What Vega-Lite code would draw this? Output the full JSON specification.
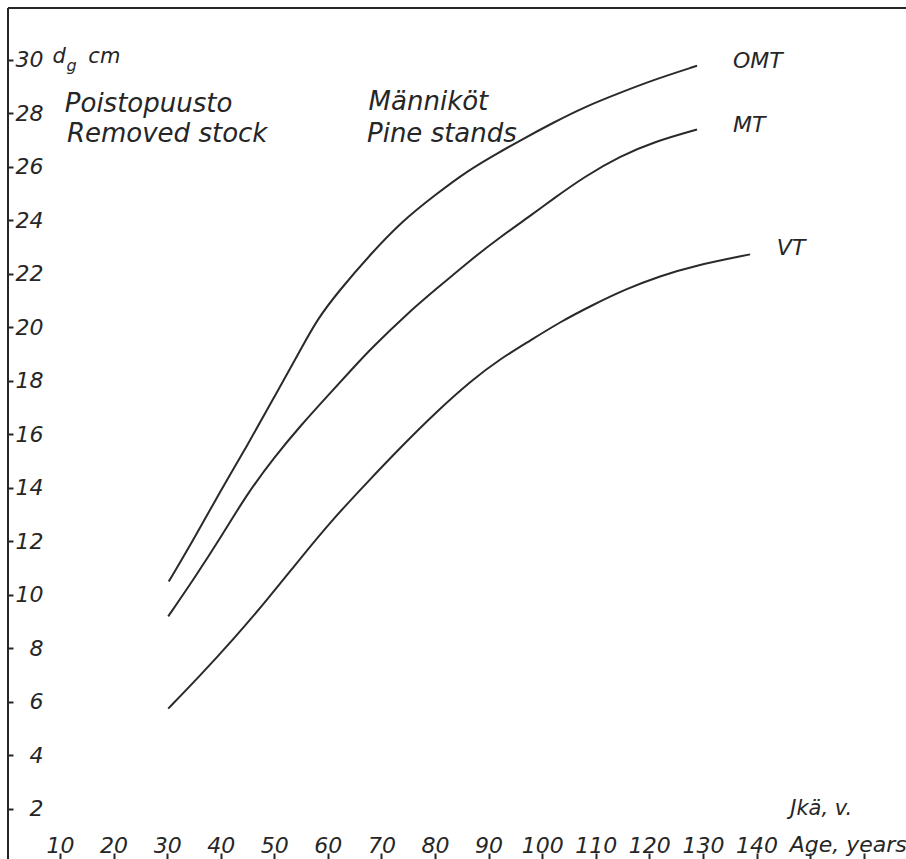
{
  "$schema": "https://vega.github.io/schema/vega-lite/v6.json",
  "width": 898,
  "height": 851,
  "autosize": {"type": "none"},
  "padding": {"left": 8, "top": 8, "right": 0, "bottom": 0},
  "background": "white",
  "view": {"stroke": null},
  "config": {
    "font": "DejaVu Sans",
    "text": {"font": "DejaVu Sans", "fontStyle": "italic", "color": "#262626", "align": "left", "baseline": "alphabetic"}
  },
  "datasets": {
    "curves": [
      {"site": "OMT", "age": 30.3, "d": 10.5},
      {"site": "OMT", "age": 35, "d": 12.1},
      {"site": "OMT", "age": 40, "d": 13.9},
      {"site": "OMT", "age": 45, "d": 15.6},
      {"site": "OMT", "age": 50, "d": 17.4},
      {"site": "OMT", "age": 55, "d": 19.2},
      {"site": "OMT", "age": 58, "d": 20.3},
      {"site": "OMT", "age": 62, "d": 21.35},
      {"site": "OMT", "age": 68, "d": 22.75},
      {"site": "OMT", "age": 74, "d": 24.0},
      {"site": "OMT", "age": 80, "d": 24.95},
      {"site": "OMT", "age": 86, "d": 25.85},
      {"site": "OMT", "age": 92, "d": 26.55},
      {"site": "OMT", "age": 96, "d": 27.0},
      {"site": "OMT", "age": 102, "d": 27.65},
      {"site": "OMT", "age": 108, "d": 28.25},
      {"site": "OMT", "age": 114.5, "d": 28.77},
      {"site": "OMT", "age": 121, "d": 29.27},
      {"site": "OMT", "age": 128.9, "d": 29.78},
      {"site": "MT", "age": 30.2, "d": 9.2},
      {"site": "MT", "age": 35, "d": 10.6},
      {"site": "MT", "age": 40, "d": 12.15},
      {"site": "MT", "age": 45, "d": 13.8},
      {"site": "MT", "age": 50, "d": 15.15},
      {"site": "MT", "age": 55, "d": 16.35},
      {"site": "MT", "age": 60, "d": 17.45},
      {"site": "MT", "age": 65, "d": 18.55},
      {"site": "MT", "age": 68, "d": 19.2},
      {"site": "MT", "age": 75, "d": 20.55},
      {"site": "MT", "age": 80, "d": 21.4},
      {"site": "MT", "age": 86.5, "d": 22.5},
      {"site": "MT", "age": 92, "d": 23.35},
      {"site": "MT", "age": 98, "d": 24.2},
      {"site": "MT", "age": 102, "d": 24.8},
      {"site": "MT", "age": 108, "d": 25.65},
      {"site": "MT", "age": 114.5, "d": 26.4},
      {"site": "MT", "age": 121, "d": 26.95},
      {"site": "MT", "age": 128.9, "d": 27.4},
      {"site": "VT", "age": 30.2, "d": 5.75},
      {"site": "VT", "age": 36, "d": 6.95},
      {"site": "VT", "age": 42.4, "d": 8.35},
      {"site": "VT", "age": 48.6, "d": 9.8},
      {"site": "VT", "age": 54.8, "d": 11.35},
      {"site": "VT", "age": 61, "d": 12.85},
      {"site": "VT", "age": 67.3, "d": 14.2},
      {"site": "VT", "age": 73.5, "d": 15.5},
      {"site": "VT", "age": 80, "d": 16.8},
      {"site": "VT", "age": 87, "d": 18.05},
      {"site": "VT", "age": 92, "d": 18.8},
      {"site": "VT", "age": 97.7, "d": 19.5},
      {"site": "VT", "age": 103.3, "d": 20.2},
      {"site": "VT", "age": 109.6, "d": 20.86},
      {"site": "VT", "age": 115.8, "d": 21.45},
      {"site": "VT", "age": 122, "d": 21.92},
      {"site": "VT", "age": 128.2, "d": 22.3},
      {"site": "VT", "age": 138.8, "d": 22.73}
    ]
  },
  "layer": [
    {
      "data": {"name": "curves"},
      "mark": {"type": "line", "interpolate": "basis", "color": "#2a2a2a", "strokeWidth": 2},
      "encoding": {
        "x": {
          "field": "age", "type": "quantitative",
          "scale": {"domain": [0.3, 167.9], "nice": false, "zero": false},
          "axis": {
            "orient": "top", "offset": -851,
            "title": null, "grid": false, "domain": false,
            "values": [10, 20, 30, 40, 50, 60, 70, 80, 90, 100, 110, 120, 130, 140, 150, 160],
            "labelExpr": "datum.value <= 140 ? datum.label : ''",
            "tickSize": 6, "tickWidth": 2, "tickColor": "#262626",
            "labelPadding": 1, "labelBaseline": "alphabetic", "labelDx": 5,
            "labelFont": "DejaVu Sans", "labelFontStyle": "italic", "labelFontSize": 22, "labelColor": "#262626",
            "labelFlush": false, "labelOverlap": false
          }
        },
        "y": {
          "field": "d", "type": "quantitative",
          "scale": {"domain": [0.13, 31.94], "nice": false, "zero": false},
          "axis": {
            "orient": "right", "offset": -898,
            "title": null, "grid": false, "domain": false,
            "values": [2, 4, 6, 8, 10, 12, 14, 16, 18, 20, 22, 24, 26, 28, 30],
            "tickSize": 5, "tickWidth": 2, "tickColor": "#262626",
            "labelPadding": 30, "labelAlign": "right", "labelBaseline": "middle",
            "labelFont": "DejaVu Sans", "labelFontStyle": "italic", "labelFontSize": 22, "labelColor": "#262626",
            "labelFlush": false, "labelOverlap": false
          }
        },
        "detail": {"field": "site", "type": "nominal"}
      }
    },
    {
      "data": {"values": [{"edge": "top", "d": 31.94}]},
      "mark": {"type": "rule", "color": "#262626", "strokeWidth": 2},
      "encoding": {
        "y": {"field": "d", "type": "quantitative", "scale": {"domain": [0.13, 31.94], "nice": false, "zero": false}}
      }
    },
    {
      "data": {"values": [{"edge": "left", "age": 0.3}]},
      "mark": {"type": "rule", "color": "#262626", "strokeWidth": 2},
      "encoding": {
        "x": {"field": "age", "type": "quantitative", "scale": {"domain": [0.3, 167.9], "nice": false, "zero": false}}
      }
    },
    {
      "data": {"values": [
        {"text": "Poistopuusto", "age": 10.9, "d": 28.05},
        {"text": "Removed stock", "age": 11.3, "d": 26.93},
        {"text": "Männiköt", "age": 67.6, "d": 28.13},
        {"text": "Pine stands", "age": 67.3, "d": 26.93}
      ]},
      "mark": {"type": "text", "fontSize": 26},
      "encoding": {
        "x": {"field": "age", "type": "quantitative", "scale": {"domain": [0.3, 167.9], "nice": false, "zero": false}},
        "y": {"field": "d", "type": "quantitative", "scale": {"domain": [0.13, 31.94], "nice": false, "zero": false}},
        "text": {"field": "text"}
      }
    },
    {
      "data": {"values": [
        {"text": "OMT", "age": 135.6, "d": 29.7},
        {"text": "MT", "age": 135.6, "d": 27.3},
        {"text": "VT", "age": 143.8, "d": 22.71}
      ]},
      "mark": {"type": "text", "fontSize": 22},
      "encoding": {
        "x": {"field": "age", "type": "quantitative", "scale": {"domain": [0.3, 167.9], "nice": false, "zero": false}},
        "y": {"field": "d", "type": "quantitative", "scale": {"domain": [0.13, 31.94], "nice": false, "zero": false}},
        "text": {"field": "text"}
      }
    },
    {
      "data": {"values": [
        {"text": "d", "age": 8.6, "d": 29.9},
        {"text": "cm", "age": 15.3, "d": 29.88},
        {"text": "Jkä, v.", "age": 146.3, "d": 1.77}
      ]},
      "mark": {"type": "text", "fontSize": 21},
      "encoding": {
        "x": {"field": "age", "type": "quantitative", "scale": {"domain": [0.3, 167.9], "nice": false, "zero": false}},
        "y": {"field": "d", "type": "quantitative", "scale": {"domain": [0.13, 31.94], "nice": false, "zero": false}},
        "text": {"field": "text"}
      }
    },
    {
      "data": {"values": [
        {"text": "Age, years", "age": 146.2, "d": 0.39}
      ]},
      "mark": {"type": "text", "fontSize": 22},
      "encoding": {
        "x": {"field": "age", "type": "quantitative", "scale": {"domain": [0.3, 167.9], "nice": false, "zero": false}},
        "y": {"field": "d", "type": "quantitative", "scale": {"domain": [0.13, 31.94], "nice": false, "zero": false}},
        "text": {"field": "text"}
      }
    },
    {
      "data": {"values": [
        {"text": "g", "age": 11.2, "d": 29.6}
      ]},
      "mark": {"type": "text", "fontSize": 16},
      "encoding": {
        "x": {"field": "age", "type": "quantitative", "scale": {"domain": [0.3, 167.9], "nice": false, "zero": false}},
        "y": {"field": "d", "type": "quantitative", "scale": {"domain": [0.13, 31.94], "nice": false, "zero": false}},
        "text": {"field": "text"}
      }
    }
  ]
}
